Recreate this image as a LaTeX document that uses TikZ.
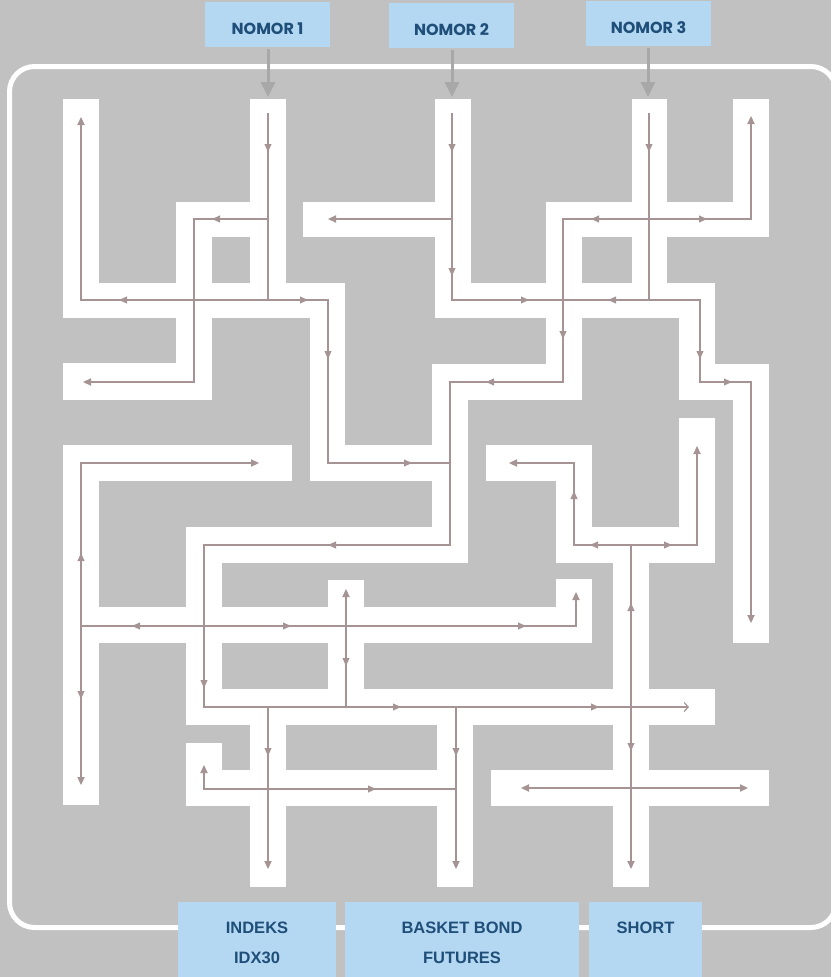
\documentclass[tikz,border=0pt]{standalone}
\usepackage{fontspec}
\setmainfont{Liberation Sans}
\newfontfamily\popfont{Poppins}
\usetikzlibrary{arrows.meta}
\definecolor{bg}{HTML}{C1C1C1}
\definecolor{boxblue}{HTML}{B4D8F2}
\definecolor{txtblue}{HTML}{1F4E79}
\definecolor{ac}{HTML}{A69494}
\definecolor{topar}{HTML}{A8A8A8}
\newcommand{\tri}[3]{\fill[ac,shift={(#1,#2)},rotate=#3] (4,0)--(-4,3.6)--(-4,-3.6)--cycle;}
\newcommand{\cor}[4]{\fill[white] (#1,#2) rectangle (#3,#4);}
\begin{document}
\begin{tikzpicture}[x=1pt,y=-1pt,
  ml/.style={draw=ac,line width=1.2pt},
  tip/.tip={Triangle[length=8pt,width=7.2pt]},
  topbox/.style={fill=boxblue,minimum width=125pt,minimum height=45pt,inner sep=0pt},
  botbox/.style={fill=boxblue,anchor=north west,inner sep=0pt},
  toptxt/.style={anchor=base,text=txtblue,font=\popfont\bfseries\fontsize{16}{16}\selectfont,inner sep=0pt},
  bottxt/.style={anchor=base,text=txtblue,font=\bfseries\fontsize{16.5}{16.5}\selectfont,inner sep=0pt},
  toparrow/.style={draw=topar,line width=3pt,-{Triangle[length=15pt,width=14pt]}}]
\useasboundingbox (0,0) rectangle (831,977);
\fill[bg] (0,0) rectangle (831,977);
% outer frame
\draw[white,line width=5pt,rounded corners=25pt] (9.5,66.5) rectangle (836,927.5);
% corridors
\cor{63}{99}{99}{318}
\cor{63}{283}{345}{318}
\cor{250}{99}{286}{318}
\cor{176}{202}{286}{237}
\cor{176}{202}{212}{400}
\cor{63}{363}{212}{400}
\cor{310}{283}{345}{481}
\cor{310}{445}{468}{481}
\cor{303}{202}{471}{237}
\cor{435}{99}{471}{318}
\cor{435}{283}{715}{318}
\cor{632}{99}{667}{318}
\cor{546}{202}{769}{237}
\cor{733}{99}{769}{237}
\cor{546}{202}{582}{400}
\cor{432}{364}{582}{400}
\cor{432}{364}{468}{563}
\cor{186}{527}{468}{563}
\cor{679}{283}{715}{400}
\cor{679}{364}{769}{400}
\cor{733}{364}{769}{643}
\cor{679}{418}{715}{563}
\cor{556}{527}{715}{563}
\cor{556}{445}{592}{563}
\cor{486}{445}{592}{481}
\cor{613}{527}{649}{887}
\cor{63}{445}{99}{805}
\cor{63}{445}{292}{481}
\cor{63}{607}{592}{643}
\cor{556}{579}{592}{643}
\cor{328}{580}{364}{725}
\cor{186}{527}{222}{725}
\cor{186}{689}{715}{725}
\cor{186}{743}{222}{806}
\cor{186}{770}{473}{806}
\cor{250}{689}{286}{887}
\cor{437}{689}{473}{887}
\cor{491}{770}{769}{806}
% boxes
\node[topbox] (n1) at (267.5,24.5) {};
\node[topbox] (n2) at (451.5,25.5) {};
\node[topbox] (n3) at (648.5,23.5) {};
\node[toptxt] (t1) at (267.5,34) {NOMOR 1};
\node[toptxt] (t2) at (451.5,35) {NOMOR 2};
\node[toptxt] (t3) at (648.5,33) {NOMOR 3};
\coordinate (e1) at (268,97);
\coordinate (e2) at (452,97);
\coordinate (e3) at (648,97);
\draw[toparrow] (268,49) -- (e1);
\draw[toparrow] (452,50) -- (e2);
\draw[toparrow] (648,48) -- (e3);
% paths
\draw[ml] (268,113) -- (268,300);
\draw[ml,-tip] (268,219) -| (194,382) -- (83,382);
\draw[ml,tip-] (81,117) -- (81,300) -- (328,300) -- (328,463) -- (450,463);
\draw[ml,-{Straight Barb[length=4pt,width=9pt]}] (649,219) -- (563,219) -- (563,382) -- (450,382) -- (450,545) -- (204,545) -- (204,707) -- (689,707);
\draw[ml,-tip] (452,113) -- (452,300) -- (700,300) -- (700,382) -- (751,382) -- (751,623);
\draw[ml,-tip] (452,219) -- (328,219);
\draw[ml] (649,113) -- (649,300);
\draw[ml,-tip] (649,219) -- (751,219) -- (751,116);
\draw[ml,-tip] (631,545) -- (631,869);
\draw[ml,tip-tip] (509,463) -- (574,463) -- (574,545) -- (697,545) -- (697,446);
\draw[ml,tip-tip] (81,785) -- (81,463) -- (259,463);
\draw[ml,-tip] (81,626) -- (576,626) -- (576,592);
\draw[ml,tip-] (346,589) -- (346,707);
\draw[ml,-tip] (268,707) -- (268,869);
\draw[ml,-tip] (456,707) -- (456,869);
\draw[ml,tip-] (204,765) -- (204,789) -- (456,789);
\draw[ml,tip-tip] (521,788) -- (748,788);
% mid arrows
\tri{268}{148}{270}
\tri{216}{219}{180}
\tri{123}{300}{180}
\tri{304}{300}{0}
\tri{328}{355}{270}
\tri{408}{463}{0}
\tri{452}{148}{270}
\tri{452}{272}{270}
\tri{525}{300}{0}
\tri{612}{300}{180}
\tri{700}{355}{270}
\tri{728}{382}{0}
\tri{649}{148}{270}
\tri{595}{219}{180}
\tri{703}{219}{0}
\tri{563}{335}{270}
\tri{490}{382}{180}
\tri{332}{545}{180}
\tri{204}{684}{270}
\tri{397}{707}{0}
\tri{595}{707}{0}
\tri{594}{545}{180}
\tri{668}{545}{0}
\tri{574}{495}{90}
\tri{631}{607}{90}
\tri{631}{747}{270}
\tri{81}{557}{90}
\tri{81}{695}{270}
\tri{136}{626}{180}
\tri{287}{626}{0}
\tri{522}{626}{0}
\tri{346}{662}{270}
\tri{268}{752}{270}
\tri{456}{752}{270}
\tri{372}{789}{0}
% bottom boxes
\node[botbox,minimum width=158pt,minimum height=80pt] (b1) at (178,902) {};
\node[botbox,minimum width=234pt,minimum height=80pt] (b2) at (345,902) {};
\node[botbox,minimum width=113pt,minimum height=80pt] (b3) at (589,902) {};
\node[bottxt] (s1) at (257,933) {INDEKS};
\node[bottxt] (s2) at (257,963) {IDX30};
\node[bottxt] (s3) at (462,933) {BASKET BOND};
\node[bottxt] (s4) at (462,963) {FUTURES};
\node[bottxt] (s5) at (645.5,933) {SHORT};
\end{tikzpicture}
\end{document}
